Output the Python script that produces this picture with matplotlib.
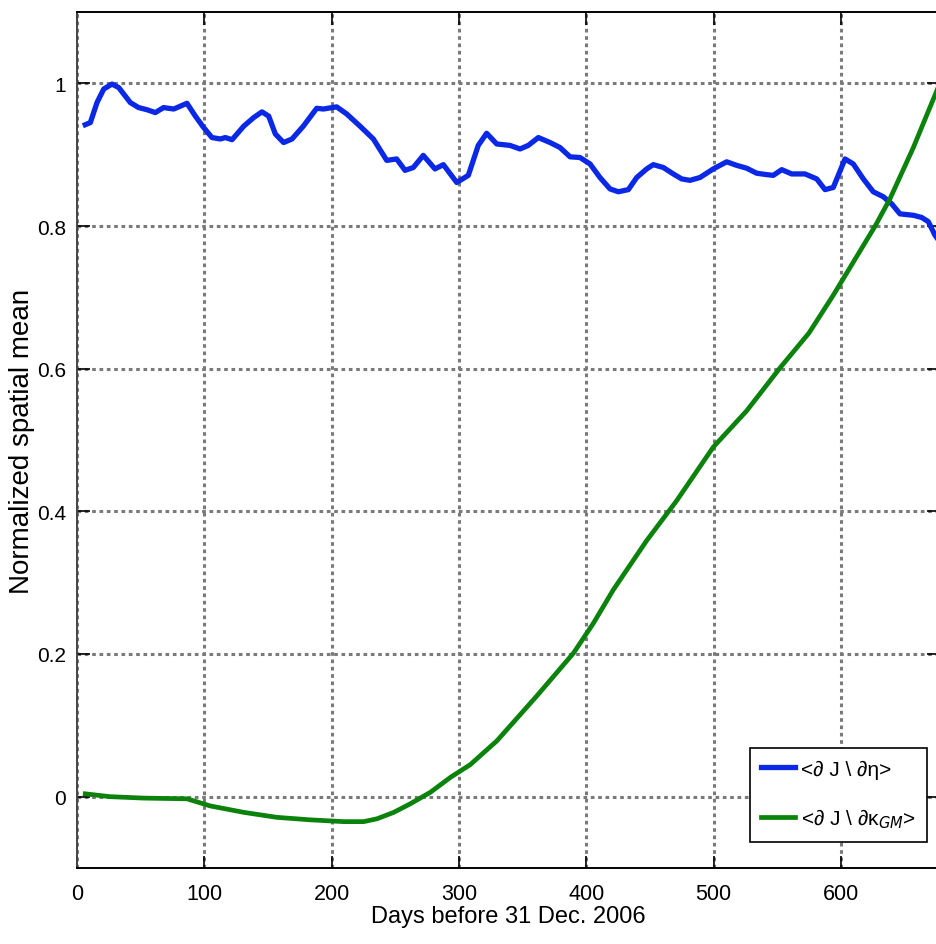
import matplotlib
matplotlib.use("Agg")
import matplotlib.pyplot as plt
import numpy as np

# ---- data ----
days_eta = [6.5, 10.5, 15.7, 21, 27.5, 32.8, 41.9, 48.4, 55, 61.5, 68, 76, 86.4, 93, 99.5,
            106, 112.6, 116.5, 121.8, 131, 138.8, 145.3, 150.6, 155.8, 162.3, 168.9, 177.8,
            188.3, 193.5, 204, 211.9, 222.3, 232.8, 243.3, 251.1, 257.7, 264.2, 272, 281.2,
            287.8, 298.3, 307.4, 315.2, 321.8, 329.7, 340.1, 348, 354.5, 362.4, 371.6, 379.4,
            387.3, 395.1, 403, 410.8, 418.7, 425.2, 433.1, 439.7, 447.5, 452.7, 460.6, 468.4,
            475, 481.5, 489.4, 499.8, 510.4, 518.2, 526.1, 533.9, 541.8, 547, 553.6, 561.4,
            571.9, 581.1, 587.6, 594.1, 603.3, 609.8, 617.7, 625.5, 633.4, 640, 646.5, 657,
            663.5, 668.8, 674, 679]
eta = [0.942, 0.945, 0.973, 0.992, 0.999, 0.994, 0.973, 0.966, 0.963, 0.959, 0.966, 0.964,
       0.972, 0.954, 0.938, 0.924, 0.922, 0.924, 0.921, 0.940, 0.952, 0.960, 0.954, 0.929,
       0.917, 0.922, 0.940, 0.965, 0.964, 0.967, 0.957, 0.940, 0.922, 0.892, 0.894, 0.878,
       0.882, 0.899, 0.880, 0.886, 0.861, 0.871, 0.913, 0.930, 0.915, 0.913, 0.908, 0.913,
       0.924, 0.917, 0.910, 0.897, 0.896, 0.887, 0.868, 0.852, 0.848, 0.851, 0.868, 0.880,
       0.886, 0.882, 0.873, 0.866, 0.864, 0.868, 0.880, 0.890, 0.885, 0.881, 0.874, 0.872,
       0.871, 0.879, 0.873, 0.873, 0.866, 0.851, 0.854, 0.894, 0.887, 0.866, 0.848, 0.841,
       0.831, 0.817, 0.815, 0.812, 0.806, 0.787, 0.775]

days_kgm = [6.5, 26, 52.4, 86.4, 104.7, 131, 157, 183.3, 209.5, 225.2, 235.7, 248.8, 261.8,
            277.5, 293.3, 309, 329.7, 361.1, 389.9, 405.6, 421.3, 447.5, 471.1, 499.8, 526.1,
            552.2, 575, 594.1, 627, 638.6, 657, 674.8, 680]
kgm = [0.004, 0.0, -0.002, -0.003, -0.013, -0.022, -0.029, -0.0325, -0.035, -0.035, -0.031,
       -0.022, -0.010, 0.006, 0.027, 0.045, 0.078, 0.141, 0.201, 0.243, 0.290, 0.359, 0.415,
       0.490, 0.541, 0.601, 0.650, 0.703, 0.800, 0.838, 0.910, 0.987, 1.010]

xticks = [0, 100, 200, 300, 400, 500, 600]
yticks = [0, 0.2, 0.4, 0.6, 0.8, 1.0]
yticklabels = ["0", "0.2", "0.4", "0.6", "0.8", "1"]
xticklabels = ["0", "100", "200", "300", "400", "500", "600"]
labels = [r"<∂ J \ ∂η>", r"<∂ J \ ∂κ$_{GM}$>"]

FAM = ["Liberation Sans", "DejaVu Sans"]

W, H = 936, 945
fig = plt.figure(figsize=(W / 100, H / 100), dpi=100)
xmax = 677
left_px, top_px, bottom_px = 77, 13, 869
px_per_day = 1.273
ax_w_px = xmax * px_per_day
ax_h_px = bottom_px - top_px
ax = fig.add_axes([left_px / W, (H - bottom_px) / H, ax_w_px / W, ax_h_px / H])

ax.plot(days_eta, eta, color="#0a28e6", linewidth=3.8, label=labels[0], zorder=3)
ax.plot(days_kgm, kgm, color="#0b820b", linewidth=3.4, label=labels[1], zorder=3)

ax.set_xlim(0, xmax)
ax.set_ylim(-0.1, 1.1)
ax.set_xticks(xticks)
ax.set_xticklabels(xticklabels, family=FAM, fontsize=15.5)
ax.set_yticks(yticks)
ax.set_yticklabels(yticklabels, family=FAM, fontsize=15)
ax.tick_params(direction="in", length=9, width=1.2, top=True, right=True, colors="black")
ax.tick_params(axis="x", pad=11)
ax.tick_params(axis="y", pad=8)

ax.grid(True, color="#7a7a7a", linestyle=(0, (1.2, 1.2)), linewidth=2.2, zorder=1)
ax.set_axisbelow(True)

for s in ax.spines.values():
    s.set_linewidth(1.4)
    s.set_color("black")
ax.spines["left"].set_color("#444444")

ax.set_xlabel("Days before 31 Dec. 2006", family=FAM, fontsize=17)
ax.xaxis.set_label_coords((508 - left_px) / ax_w_px, (bottom_px - 906) / ax_h_px)
ax.set_ylabel("Normalized spatial mean", family=FAM, fontsize=20)
ax.yaxis.set_label_coords((35 - left_px) / ax_w_px, 0.5)

leg = ax.legend(loc="upper left", bbox_to_anchor=(750 / W, 1 - 749 / H),
                bbox_transform=fig.transFigure, borderaxespad=0, fancybox=False,
                framealpha=1, edgecolor="black", prop={"family": FAM, "size": 15},
                handlelength=1.6, handletextpad=0.3, labelspacing=1.35, borderpad=0.55)
leg.get_frame().set_linewidth(1.2)

fig.savefig("out.png", dpi=100)
